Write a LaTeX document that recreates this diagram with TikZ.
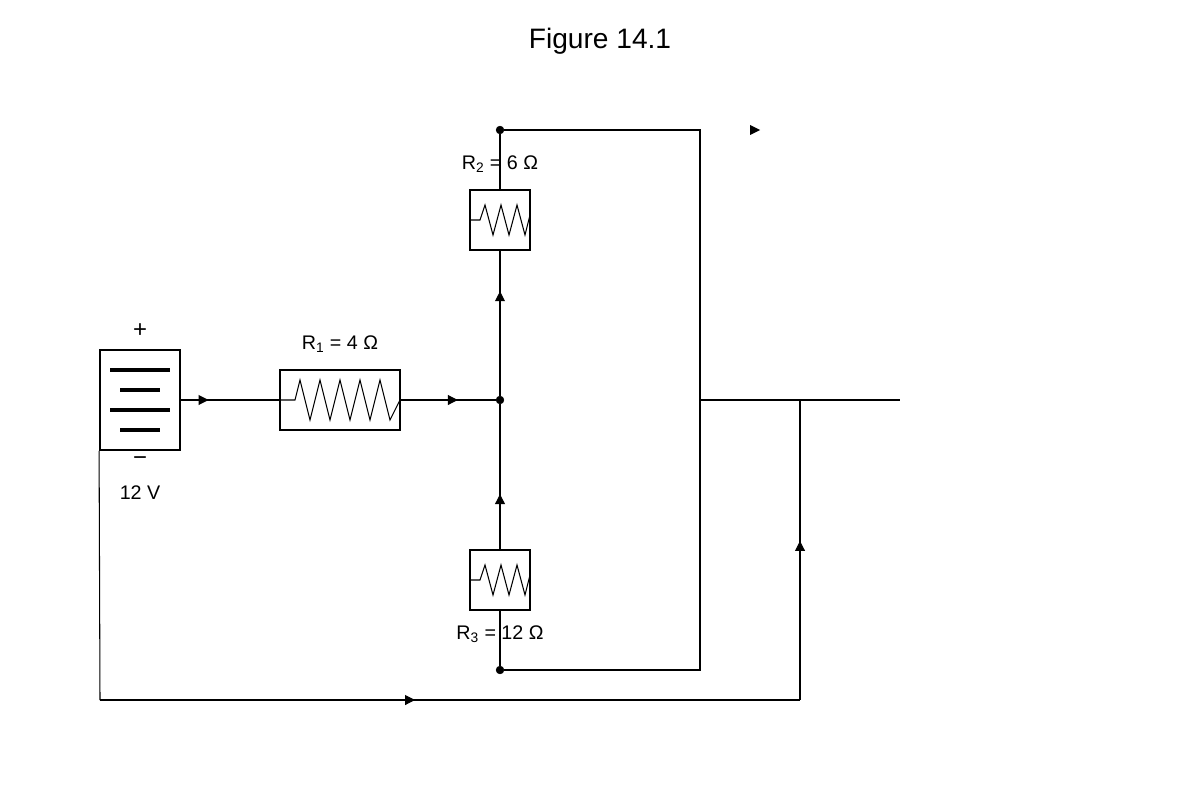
\documentclass[tikz,border=0pt]{standalone}
\usepackage{fontspec}
\setmainfont{Liberation Sans}
\usetikzlibrary{arrows.meta,decorations.markings}
\begin{document}
\begin{tikzpicture}
	[
	x=0.025cm, y=-0.025cm,
	wire/.style = {line width=0.75pt},
	dot/.style = {draw,fill,circle,inner sep=0pt,minimum size=5.5pt},
	box/.style = {draw,line width=0.9pt,inner sep=0pt},
	lbl/.style = {font=\fontsize{14}{16}\selectfont},
	arrow at/.style = {postaction=decorate,decoration={markings,mark=at position #1 with \arrow{Triangle[length=7pt,width=7pt]}}}
	]
	\useasboundingbox (0,0) rectangle (1200,800);
	\node[font=\fontsize{20}{24}\selectfont] (title) at (600,41) {Figure 14.1};

	% battery
	\node[box,line width=1.3pt,minimum width=80*0.025cm,minimum height=100*0.025cm] (bat) at (140,400) {};
	\foreach \y/\w in {370/30,390/20,410/30,430/20}
		\draw[line width=2.2pt] (140-\w,\y) -- (140+\w,\y);
	\node[font=\fontsize{17}{20}\selectfont] (plus) at (140,331) {+};
	\node[font=\fontsize{17}{20}\selectfont] (minus) at (140,461) {\textminus};
	\node[lbl] (volt) at (140,493) {12 V};

	% resistors
	\node[box,minimum width=120*0.025cm,minimum height=60*0.025cm] (r1) at (340,400) {};
	\draw[wire] (280,400) -- (295,400) -- (300,380) \foreach \x in {310,330,350,370} {-- (\x,420) -- (\x+10,380)} -- (390,420) -- (400,400);
	\node[lbl] (r1lbl) at (340,344) {R\textsubscript{1} = 4 Ω};

	\node[box,minimum width=60*0.025cm,minimum height=60*0.025cm] (r2) at (500,220) {};
	\draw[wire] (470,220) -- (480,220) -- (485,205) -- (493,235) -- (501,205) -- (509,235) -- (517,205) -- (525,235) -- (530,215);
	\node[lbl] (r2lbl) at (500,164) {R\textsubscript{2} = 6 Ω};

	\node[box,minimum width=60*0.025cm,minimum height=60*0.025cm] (r3) at (500,580) {};
	\draw[wire] (470,580) -- (480,580) -- (485,565) -- (493,595) -- (501,565) -- (509,595) -- (517,565) -- (525,595) -- (530,575);
	\node[lbl] (r3lbl) at (500,634) {R\textsubscript{3} = 12 Ω};

	% junctions
	\node[dot] (jmid) at (500,400) {};
	\node[dot] (jtop) at (500,130) {};
	\node[dot] (jbot) at (500,670) {};
	\coordinate (trc) at (700,130);
	\coordinate (brc) at (700,670);
	\coordinate (rmid) at (700,400);
	\coordinate (rend) at (900,400);
	\coordinate (tap) at (800,400);
	\coordinate (tapb) at (800,700);
	\coordinate (batb) at (100,700);
	\coordinate (stray) at (750,125);

	% wires
	\draw[wire,arrow at=0.28] (bat.east) -- (r1.west);
	\draw[wire,arrow at=0.6] (r1.east) -- (jmid);
	\draw[wire,arrow at=0.72] (jmid) -- (r2.south);
	\draw[wire] (r2.north) -- (jtop) -- (trc) -- (brc) -- (jbot) -- (r3.south);
	\draw[wire,arrow at=0.38] (r3.north) -- (jmid);
	\draw[wire] (rmid) -- (rend);
	\draw[wire] (bat.south west) -- (batb);
	\draw[wire,arrow at=0.45] (batb) -- (tapb);
	\draw[wire,arrow at=0.53] (tapb) -- (tap);
	\fill (stray) -- ++(10,5) -- ++(-10,5) -- cycle;
\end{tikzpicture}
\end{document}
